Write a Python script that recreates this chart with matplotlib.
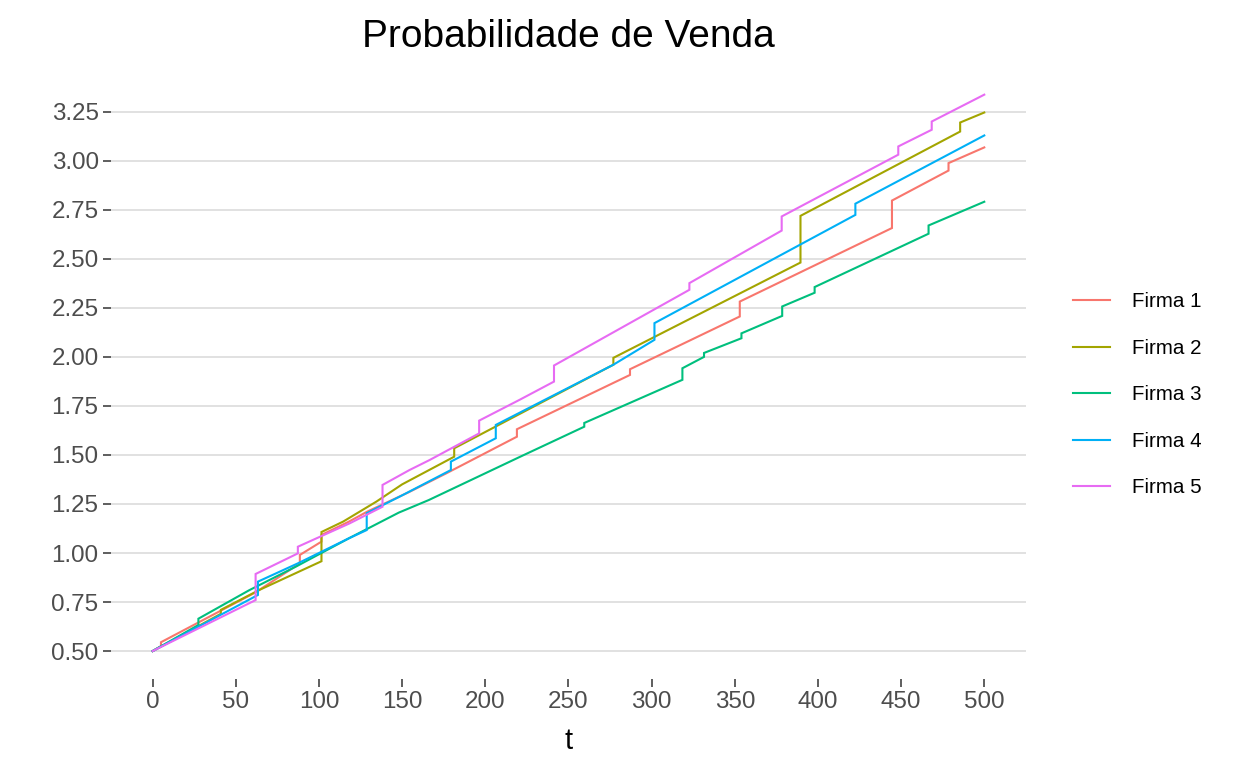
import numpy as np
import matplotlib.pyplot as plt

plt.rcParams['font.family'] = ['Liberation Sans', 'DejaVu Sans']

# knots (t, value); repeated t = a jump
t1 = [0, 5, 5, 62, 88.5, 88.5, 101.5, 101.5, 118, 129, 154, 176.5, 219, 219,
      287, 287, 353, 353, 444.5, 444.5, 478.5, 478.5, 500]
v1 = [0.50, 0.525, 0.545, 0.80, 0.947, 0.99, 1.058, 1.092, 1.16, 1.211, 1.31,
      1.406, 1.593, 1.631, 1.908, 1.937, 2.206, 2.282, 2.657, 2.797, 2.95, 2.988, 3.068]

t2 = [0, 41, 41, 64, 101.5, 101.5, 114.5, 134.5, 150, 181.3, 181.3, 206.5,
      277, 277, 389.5, 389.5, 485.5, 485.5, 500]
v2 = [0.50, 0.69, 0.71, 0.811, 0.958, 1.107, 1.16, 1.262, 1.35, 1.491, 1.534,
      1.646, 1.96, 1.995, 2.481, 2.719, 3.149, 3.195, 3.246]

t3 = [0, 27.5, 27.5, 58, 86, 118, 148, 166, 221, 259.5, 259.5, 318.5, 318.5,
      331.5, 331.5, 354, 354, 378.5, 378.5, 398, 398, 466.5, 466.5, 500]
v3 = [0.50, 0.633, 0.665, 0.81, 0.93, 1.075, 1.206, 1.27, 1.491, 1.644, 1.663,
      1.883, 1.942, 2.0, 2.02, 2.095, 2.12, 2.209, 2.257, 2.327, 2.356, 2.628, 2.67, 2.791]

t4 = [0, 63.3, 63.3, 87, 118, 128.7, 128.7, 148.4, 179.3, 179.3, 206.3, 206.3,
      277, 301.7, 301.7, 422.5, 422.5, 500]
v4 = [0.50, 0.786, 0.854, 0.946, 1.075, 1.117, 1.203, 1.287, 1.423, 1.466,
      1.585, 1.653, 1.96, 2.087, 2.172, 2.724, 2.781, 3.129]

t5 = [0, 61.9, 61.9, 87.3, 87.3, 118.4, 138.2, 138.2, 154.4, 166.5, 196.3, 196.3,
      220.6, 241.3, 241.3, 322.7, 322.7, 378.2, 378.2, 448.3, 448.3, 468.4, 468.4, 500]
v5 = [0.50, 0.76, 0.893, 0.998, 1.032, 1.151, 1.236, 1.347, 1.423, 1.474, 1.61,
      1.675, 1.781, 1.874, 1.956, 2.342, 2.376, 2.644, 2.716, 3.031, 3.073, 3.158,
      3.20, 3.337]

labels = ['Firma 1', 'Firma 2', 'Firma 3', 'Firma 4', 'Firma 5']
colors = ['#F8766D', '#A3A500', '#00BF7D', '#00B0F6', '#E76BF3']
x_ticks = [0, 50, 100, 150, 200, 250, 300, 350, 400, 450, 500]
y_ticks = [0.50, 0.75, 1.00, 1.25, 1.50, 1.75, 2.00, 2.25, 2.50, 2.75, 3.00, 3.25]

series = [(t1, v1), (t2, v2), (t3, v3), (t4, v4), (t5, v5)]

fig = plt.figure(figsize=(12.48, 7.68), dpi=100)
ax = fig.add_axes([0.089, 0.116, 0.733, 0.797])

for (t, v), lab, c in zip(series, labels, colors):
    ax.plot(t, v, color=c, lw=1.5, label=lab, solid_joinstyle='miter')

ax.set_xlim(-25, 525)
ax.set_ylim(0.358, 3.479)
ax.set_xticks(x_ticks)
ax.set_yticks(y_ticks)
ax.set_yticklabels([f'{y:.2f}' for y in y_ticks])
ax.grid(axis='y', color='#D9D9D9', lw=1.1)
ax.set_axisbelow(True)
for s in ax.spines.values():
    s.set_visible(False)
ax.tick_params(axis='both', colors='#333333', labelcolor='#4D4D4D',
               labelsize=17.4, length=6, width=1.1, pad=3)

ax.set_xlabel('t', fontsize=21, labelpad=10)
ax.set_title('Probabilidade de Venda', fontsize=28, pad=14)

ax.legend(loc='center left', bbox_to_anchor=(1073 / 1248, 0.486),
          bbox_transform=fig.transFigure, frameon=False, borderpad=0,
          borderaxespad=0, fontsize=14.8, handlelength=1.8,
          handletextpad=1.05, labelspacing=1.34)

fig.savefig('out.png', dpi=100)
